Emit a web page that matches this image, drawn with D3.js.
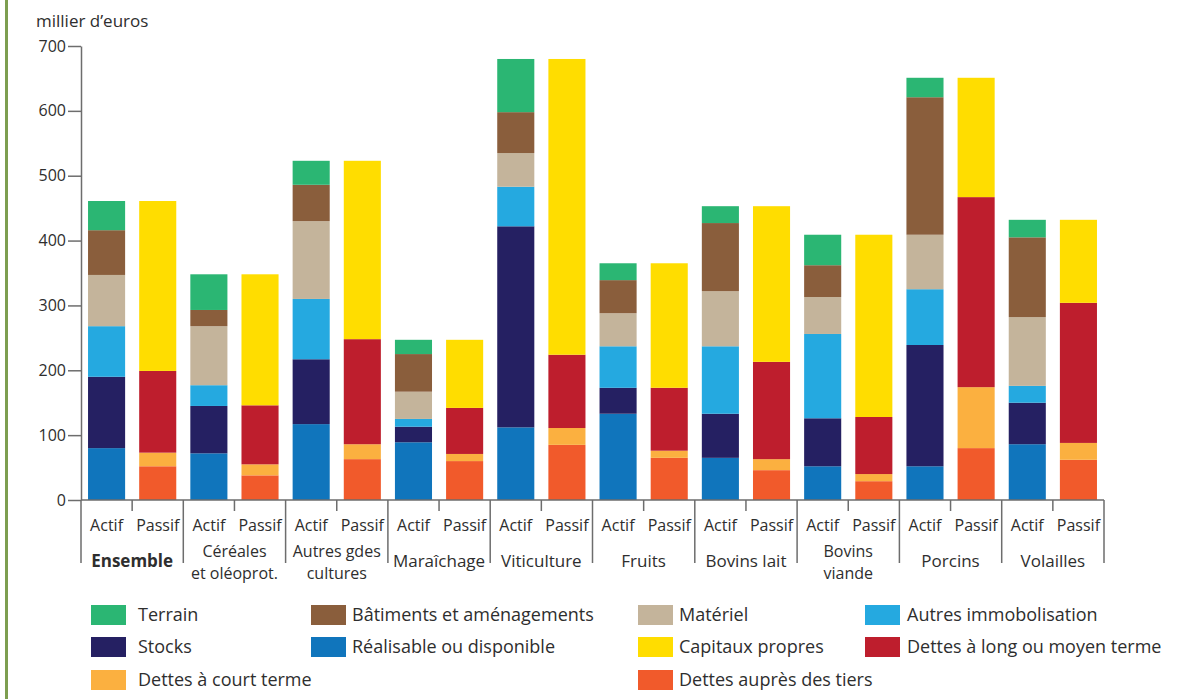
<!DOCTYPE html>
<html>
<head>
<meta charset="utf-8">
<script src="https://cdn.jsdelivr.net/npm/d3@7"></script>
<style>
  body { margin: 0; background: #fff; }
  svg text { font-family: "Open Sans", "Noto Sans", sans-serif; fill: #2e2e2e; }
  .axis path, .axis line { stroke: #6d6d6d; stroke-width: 1.5px; }
</style>
</head>
<body>
<svg id="chart" width="1204" height="699"></svg>
<script>
// groups (two-line labels split by \n)
const groups = ["Ensemble", "Céréales\net oléoprot.", "Autres gdes\ncultures", "Maraîchage",
  "Viticulture", "Fruits", "Bovins lait", "Bovins\nviande", "Porcins", "Volailles"];
const bars = ["Actif", "Passif"];
const yTicks = [0, 100, 200, 300, 400, 500, 600, 700];

// actif series (bottom to top)
const realisable = [80, 72, 117, 89, 112, 133, 65, 52, 52, 86];
const stocks     = [110, 73, 100, 24, 310, 40, 68, 74, 187, 64];
const autresImmo = [78, 32, 93, 12, 61, 64, 104, 130, 86, 26];
const materiel   = [79, 91, 120, 42, 52, 51, 85, 57, 84, 106];
const batiments  = [69, 25, 56, 58, 63, 51, 105, 49, 212, 123];
const terrain    = [45, 55, 37, 22, 82, 26, 26, 47, 30, 27];

// passif series (bottom to top)
const dettesTiers = [52, 38, 63, 60, 85, 65, 46, 29, 80, 62];
const dettesCourt = [21, 17, 23, 11, 26, 11, 17, 11, 94, 26];
const dettesLMT   = [126, 91, 162, 71, 113, 97, 150, 88, 293, 216];
const capitaux    = [262, 202, 275, 105, 456, 192, 240, 281, 184, 128];

const SERIES = {
  "Réalisable ou disponible": { vals: realisable, color: "#1075bc", bar: "Actif" },
  "Stocks": { vals: stocks, color: "#252062", bar: "Actif" },
  "Autres immobolisation": { vals: autresImmo, color: "#25a9e0", bar: "Actif" },
  "Matériel": { vals: materiel, color: "#c4b49b", bar: "Actif" },
  "Bâtiments et aménagements": { vals: batiments, color: "#8a5e3c", bar: "Actif" },
  "Terrain": { vals: terrain, color: "#2bb673", bar: "Actif" },
  "Dettes auprès des tiers": { vals: dettesTiers, color: "#f15a2b", bar: "Passif" },
  "Dettes à court terme": { vals: dettesCourt, color: "#fbb040", bar: "Passif" },
  "Dettes à long ou moyen terme": { vals: dettesLMT, color: "#be1e2d", bar: "Passif" },
  "Capitaux propres": { vals: capitaux, color: "#ffdd00", bar: "Passif" }
};

// legend layout: [row][col]
const legendRows = [
  ["Terrain", "Bâtiments et aménagements", "Matériel", "Autres immobolisation"],
  ["Stocks", "Réalisable ou disponible", "Capitaux propres", "Dettes à long ou moyen terme"],
  ["Dettes à court terme", null, "Dettes auprès des tiers", null]
];

const svg = d3.select("#chart");
const mLeft = 81, mRight = 1104, mTop = 46, mBottom = 500;

const x0 = d3.scaleBand().domain(groups).range([mLeft, mRight]).padding(0);
const x1 = d3.scaleBand().domain(bars).range([0, x0.bandwidth()])
  .paddingInner(0.275).paddingOuter(0.1375);
const y = d3.scaleLinear().domain([0, 700]).range([mBottom, mTop]);

// left green rule
svg.append("rect").attr("x", 5).attr("y", 0).attr("width", 3).attr("height", 699)
  .attr("fill", "#7d9e50");

svg.append("text").attr("x", 36).attr("y", 27).style("font-size", "17px")
  .text("millier d’euros");

// stacked bars
bars.forEach(function(b) {
  let keys = Object.keys(SERIES).filter(k => SERIES[k].bar === b);
  let table = groups.map(function(g, i) {
    let row = { group: g };
    keys.forEach(k => row[k] = SERIES[k].vals[i]);
    return row;
  });
  let stacked = d3.stack().keys(keys)(table);

  svg.append("g").selectAll("g")
    .data(stacked)
    .enter()
    .append("g")
    .attr("fill", d => SERIES[d.key].color)
    .selectAll("rect")
    .data(d => d)
    .enter()
    .append("rect")
    .attr("x", d => x0(d.data.group) + x1(b))
    .attr("width", x1.bandwidth())
    .attr("y", d => y(d[1]))
    .attr("height", d => y(d[0]) - y(d[1]));
});

// y axis
svg.append("g")
  .attr("class", "axis")
  .attr("transform", `translate(${mLeft},0)`)
  .call(d3.axisLeft(y).tickValues(yTicks).tickSize(13).tickSizeOuter(0).tickPadding(2))
  .call(g => g.selectAll("text").style("font-size", "16px").attr("fill", "#2e2e2e"));

// x axis
let xa = svg.append("g").attr("class", "axis");
xa.append("line").attr("x1", mLeft).attr("x2", mRight).attr("y1", mBottom).attr("y2", mBottom);
let bounds = groups.map(g => x0(g)).concat([mRight]);
xa.selectAll("line.sep").data(bounds).enter().append("line").attr("class", "sep")
  .attr("x1", d => d).attr("x2", d => d).attr("y1", mBottom).attr("y2", mBottom + 63);
xa.selectAll("line.mid").data(groups).enter().append("line").attr("class", "mid")
  .attr("x1", d => x0(d) + x0.bandwidth() / 2).attr("x2", d => x0(d) + x0.bandwidth() / 2)
  .attr("y1", mBottom).attr("y2", mBottom + 11);

groups.forEach(function(g) {
  bars.forEach(function(b) {
    svg.append("text")
      .attr("x", x0(g) + x1(b) + x1.bandwidth() / 2)
      .attr("y", 531)
      .attr("text-anchor", "middle")
      .style("font-size", "16px")
      .text(b);
  });
  // each line of a group label is its own text
  let lines = g.split("\n");
  let y0 = lines.length > 1 ? 557 : 567;
  lines.forEach(function(l, i) {
    svg.append("text")
      .attr("x", x0(g) + x0.bandwidth() / 2)
      .attr("y", y0 + i * 22)
      .attr("text-anchor", "middle")
      .style("font-size", lines.length > 1 ? "16px" : "17px")
      .style("font-weight", g === "Ensemble" ? "bold" : "normal")
      .text(l);
  });
});

// legend
const swatchX = [91, 311, 638, 865];
const textX = [138, 352, 679, 907];
const rowY = [615, 647, 680];
legendRows.forEach(function(row, r) {
  row.forEach(function(name, c) {
    if (!name) return;
    svg.append("rect").attr("x", swatchX[c]).attr("y", rowY[r] - 10)
      .attr("width", 35).attr("height", 20).attr("fill", SERIES[name].color);
    svg.append("text").attr("x", textX[c]).attr("y", rowY[r] + 6)
      .style("font-size", "18px").text(name);
  });
});
</script>
</body>
</html>
